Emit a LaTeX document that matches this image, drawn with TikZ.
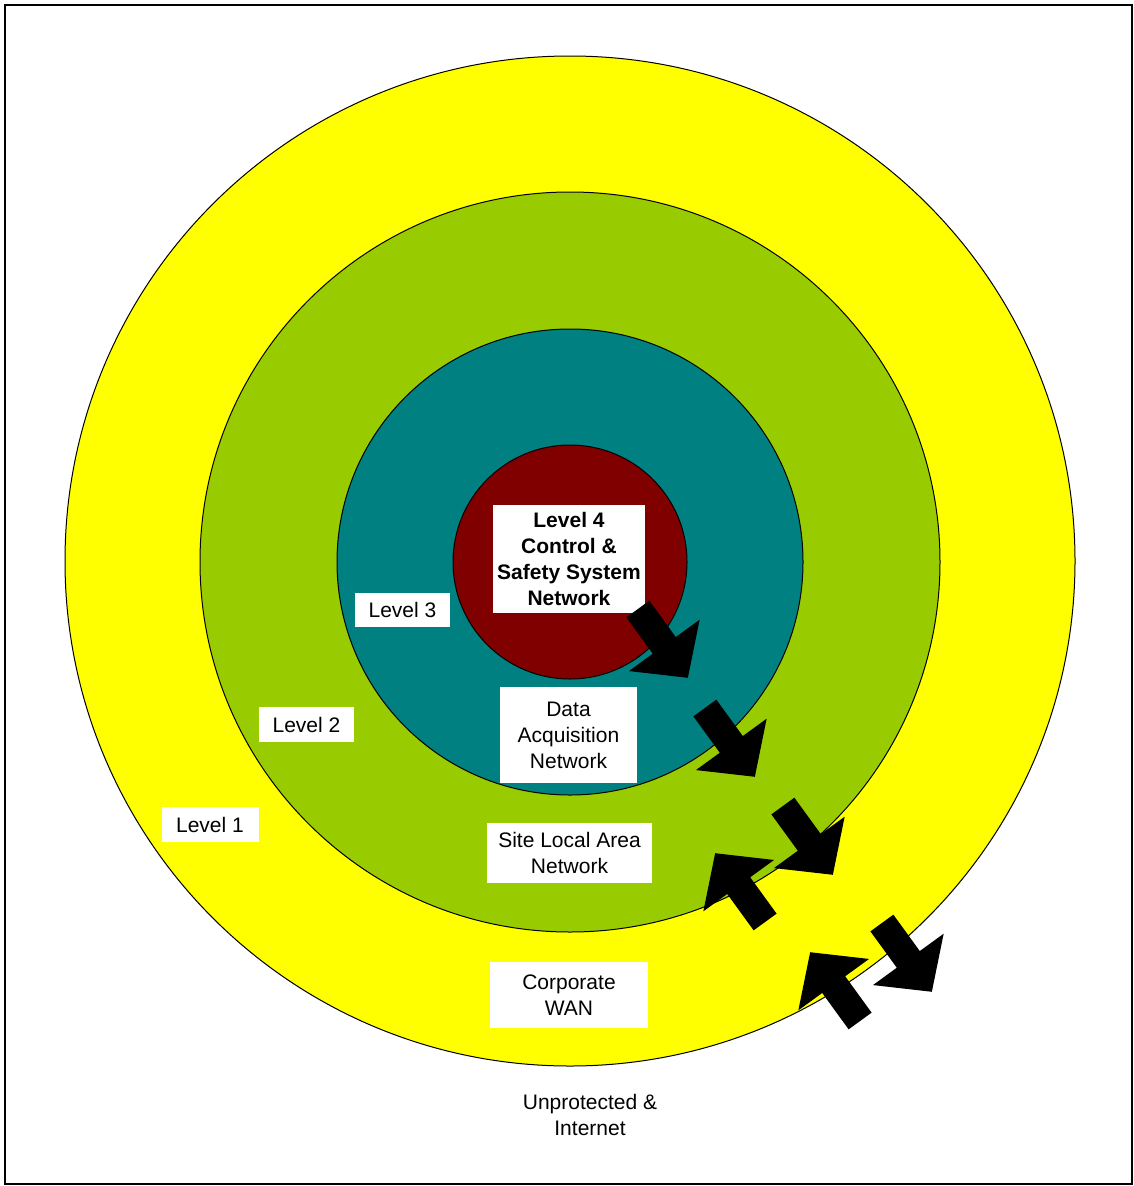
\documentclass[tikz,border=0pt]{standalone}
\usepackage{fontspec}
\setmainfont{Liberation Sans}
\usetikzlibrary{shapes.arrows}
\definecolor{ringYellow}{HTML}{FFFF00}
\definecolor{ringGreen}{HTML}{99CC00}
\definecolor{ringTeal}{HTML}{008080}
\definecolor{ringRed}{HTML}{800000}
\tikzset{
    ring/.style={
        circle,
        draw=black,
        line width=1pt,
        inner sep=0pt
    },
    tag/.style={
        rectangle,
        fill=white,
        align=center,
        inner sep=0pt,
        font=\fontsize{21}{26}\selectfont
    },
    plain/.style={
        align=center,
        inner sep=0pt,
        font=\fontsize{21}{26}\selectfont
    },
    blockarrow/.style={
        single arrow,
        fill=black,
        inner xsep=0pt,
        inner ysep=14pt,
        minimum height=85pt,
        single arrow head extend=29.5pt,
        single arrow tip angle=95,
        anchor=tip
    }
}

\begin{document}
\begin{tikzpicture}[x=1pt,y=-1pt]
    \useasboundingbox (0,0) rectangle (1134,1186);
    \draw[line width=2.5pt] (5,5) rectangle (1132,1184);

    % the four zones
    \node[ring, fill=ringYellow, minimum size=1010pt] (zone1) at (570,561) {};
    \node[ring, fill=ringGreen, minimum size=740pt] (zone2) at (570,562) {};
    \node[ring, fill=ringTeal, minimum size=466pt] (zone3) at (570,562) {};
    \node[ring, fill=ringRed, minimum size=234pt] (zone4) at (570,562) {};

    % labels
    \node[tag, minimum width=152pt, minimum height=108pt, font=\fontsize{21}{26}\selectfont\bfseries]
        (core) at (569,559) {Level 4\\Control \&\\Safety System\\Network};
    \node[tag, minimum width=95pt, minimum height=34pt] (lvl3) at (402.5,610) {Level 3};
    \node[tag, minimum width=95pt, minimum height=35pt] (lvl2) at (306.5,724.5) {Level 2};
    \node[tag, minimum width=97pt, minimum height=35pt] (lvl1) at (210,824.5) {Level 1};
    \node[tag, minimum width=137pt, minimum height=96pt] (daq) at (568.5,735) {Data\\Acquisition\\Network};
    \node[tag, minimum width=165pt, minimum height=60pt] (lan) at (569.5,853) {Site Local Area\\Network};
    \node[tag, minimum width=158pt, minimum height=66pt] (wan) at (569,995) {Corporate\\WAN};
    \node[plain] (inet) at (590,1115) {Unprotected \&\\Internet};

    % data flow arrows
    \node[blockarrow, rotate=-54] (out4) at (688,678) {};
    \node[blockarrow, rotate=-54] (out3) at (755,777) {};
    \node[blockarrow, rotate=-54] (out2) at (833,875) {};
    \node[blockarrow, rotate=126] (in2) at (715,853) {};
    \node[blockarrow, rotate=-54] (out1) at (932,992) {};
    \node[blockarrow, rotate=126] (in1) at (810,952) {};
\end{tikzpicture}
\end{document}
